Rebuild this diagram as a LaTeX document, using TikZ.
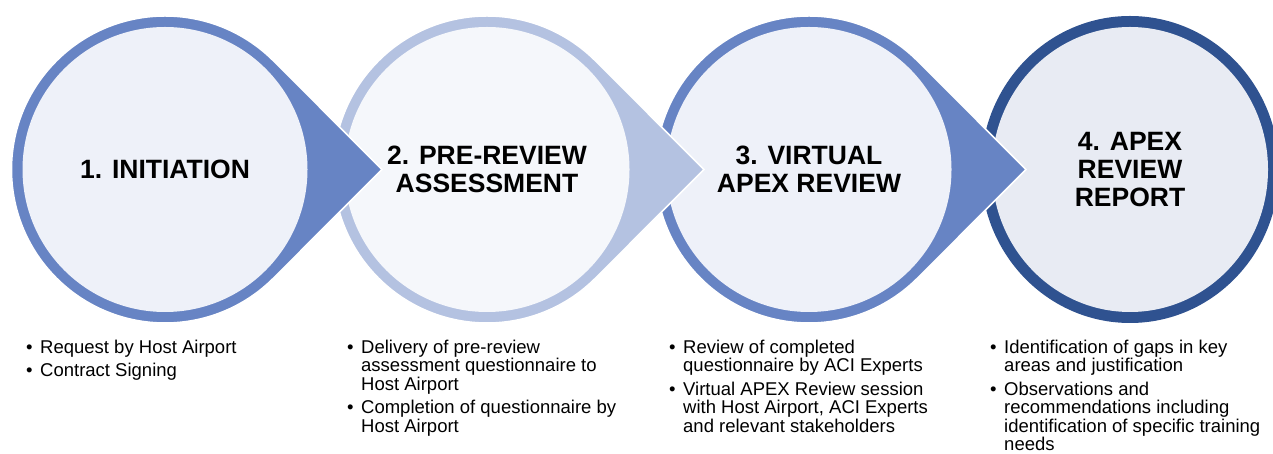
\documentclass[tikz,border=0pt]{standalone}
\usepackage{fontspec}
\setmainfont{Liberation Sans}
\usetikzlibrary{calc,shapes.geometric}

\definecolor{ringmid}{HTML}{6784C4}
\definecolor{ringlight}{HTML}{B4C2E1}
\definecolor{ringdark}{HTML}{2F5290}
\definecolor{fillmid}{HTML}{EEF1F9}
\definecolor{filllight}{HTML}{F5F7FB}
\definecolor{filldark}{HTML}{E8EBF3}

% ring with a pointed tip towards the next stage
\newcommand{\droplet}[2]{%
  \fill[#2, draw=white, line width=1.5pt]
    ($(#1)+(-45:153.5)$) -- ($(#1)+(217,0)$) -- ($(#1)+(45:153.5)$)
    arc[start angle=45, end angle=315, radius=153.5] -- cycle;}
% bullet hanging left of the text
\newcommand{\bul}{\llap{\makebox[14pt][l]{\textbullet}}}

\begin{document}
\begin{tikzpicture}[x=1pt, y=1pt,
    stage/.style={circle, minimum size=285pt, inner sep=0pt, align=center,
                  font=\fontsize{26.5}{28}\selectfont\bfseries},
    notes/.style={anchor=base west, inner sep=0pt, align=left,
                  font=\fontsize{18.5}{18.5}\selectfont}]
    \useasboundingbox (0,0) rectangle (1273,454);
    \clip (0,0) rectangle (1273,454);

    % Stage centres
    \coordinate (c1) at (165,284.5);
    \coordinate (c2) at (487,284.5);
    \coordinate (c3) at (809,284.5);
    \coordinate (c4) at (1130,284.5);

    % Stages, right to left so each tip lies over the next ring
    \fill[ringdark] (c4) ellipse [x radius=149, y radius=153.5];
    \node[stage, ellipse, minimum width=276pt, minimum height=285pt, fill=filldark] (report) at (c4) {4. APEX\\REVIEW\\REPORT};

    \droplet{c3}{ringmid}
    \node[stage, fill=fillmid] (virtual) at (c3) {3. VIRTUAL\\APEX REVIEW};

    \droplet{c2}{ringlight}
    \node[stage, fill=filllight] (prereview) at (c2) {2. PRE-REVIEW\\ASSESSMENT};

    \droplet{c1}{ringmid}
    \node[stage, fill=fillmid] (initiation) at (c1) {1. INITIATION};

    % Activities under each stage (placed by their last line)
    \node[notes] (initiationnotes) at (40,77.2) {\bul Request by Host Airport\\[5pt]\bul Contract Signing};
    \node[notes] (prereviewnotes) at (361,21.7) {\bul Delivery of pre-review\\assessment questionnaire to\\Host Airport\\[5pt]\bul Completion of questionnaire by\\Host Airport};
    \node[notes] (virtualnotes) at (683,21.7) {\bul Review of completed\\questionnaire by ACI Experts\\[5pt]\bul Virtual APEX Review session\\with Host Airport, ACI Experts\\and relevant stakeholders};
    \node[notes] (reportnotes) at (1004,3.2) {\bul Identification of gaps in key\\areas and justification\\[5pt]\bul Observations and\\recommendations including\\identification of specific training\\needs};
\end{tikzpicture}
\end{document}
